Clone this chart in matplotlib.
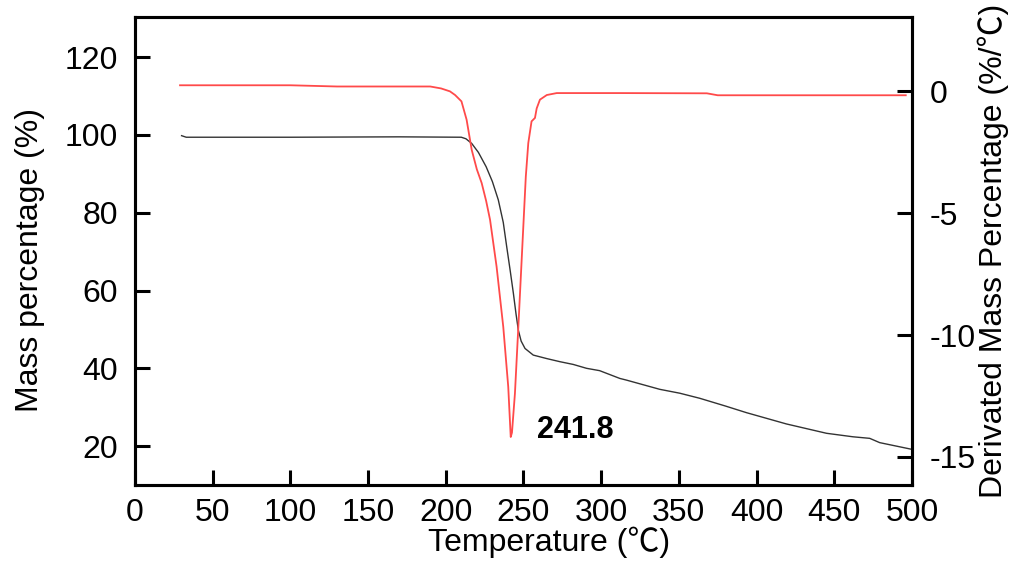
import matplotlib.pyplot as plt

# TG curve (left axis)
tg_temp = [30, 33, 100, 170, 210, 213, 216.7, 221, 226, 230, 233.8, 237, 239.2, 241.5,
           243.5, 245.2, 246.7, 248.5, 251, 256.3, 265, 273.5, 282, 290.6, 299, 312,
           316, 337.7, 350.6, 363.4, 380, 393.5, 419.2, 445, 462, 472.8, 479.2, 499.6]
tg_mass = [99.8, 99.4, 99.4, 99.5, 99.4, 99.0, 97.8, 95.5, 91.8, 88.0, 83.3, 77.5, 71.3, 65.0,
           59.3, 54.0, 49.8, 47.0, 45.1, 43.4, 42.5, 41.7, 41.0, 40.0, 39.4, 37.4,
           37.0, 34.6, 33.6, 32.3, 30.3, 28.6, 25.7, 23.3, 22.4, 22.0, 20.9, 19.2]

# DTG curve (right axis)
dtg_temp = [29, 100, 130, 190, 197, 202.7, 206, 210.1, 213.4, 216.7, 220, 223.1, 226, 228.5,
            232.7, 237, 240.2, 241.8, 242.6, 244.5, 246.7, 249.9, 251.5, 253.1, 255.2, 257.4,
            258.5, 260.6, 265, 271.4, 312, 368, 375, 496]
dtg_rate = [0.25, 0.25, 0.2, 0.2, 0.12, 0.0, -0.15, -0.41, -1.16, -2.4, -3.2, -3.76, -4.5, -5.27,
            -7.19, -9.66, -12.12, -14.18, -14.0, -12.4, -9.66, -5.55, -3.5, -2.12, -1.23, -1.09,
            -0.7, -0.34, -0.15, -0.07, -0.07, -0.08, -0.16, -0.16]

peak_label = "241.8"

plt.rcParams['axes.unicode_minus'] = False
plt.rcParams['font.family'] = ['Liberation Sans', 'Noto Sans CJK SC', 'DejaVu Sans']

fig = plt.figure(figsize=(10.24, 5.77), dpi=100)
ax = fig.add_axes([0.1318, 0.1594, 0.7588, 0.8111])
ax2 = ax.twinx()

ax.plot(tg_temp, tg_mass, color='#333333', linewidth=1.0, zorder=3)
ax2.plot(dtg_temp, dtg_rate, color='#ff4a4a', linewidth=1.3)

ax.set_xlim(0, 500)
ax.set_ylim(10, 130.3)
ax2.set_ylim(-16.15, 3.05)

ax.set_xticks(range(0, 501, 50))
ax.set_yticks(range(20, 121, 20))
ax2.set_yticks([0, -5, -10, -15])

for a in (ax, ax2):
    for s in a.spines.values():
        s.set_linewidth(2.2)
    a.tick_params(direction='in', length=11, width=2.2, labelsize=23)

ax.tick_params(axis='x', pad=9)
ax.tick_params(axis='y', pad=12)
ax2.tick_params(axis='y', pad=13)

ax.set_xlabel("Temperature (℃)", fontsize=23, labelpad=-1, x=0.533)
ax.set_ylabel("Mass percentage (%)", fontsize=23, labelpad=14, y=0.481)
ax2.set_ylabel("Derivated Mass Percentage (%/℃)", fontsize=23, labelpad=1)

ax.text(258.5, 24.1, peak_label, fontsize=22, fontweight='bold',
        ha='left', va='center')

fig.savefig("out.png", dpi=100)
